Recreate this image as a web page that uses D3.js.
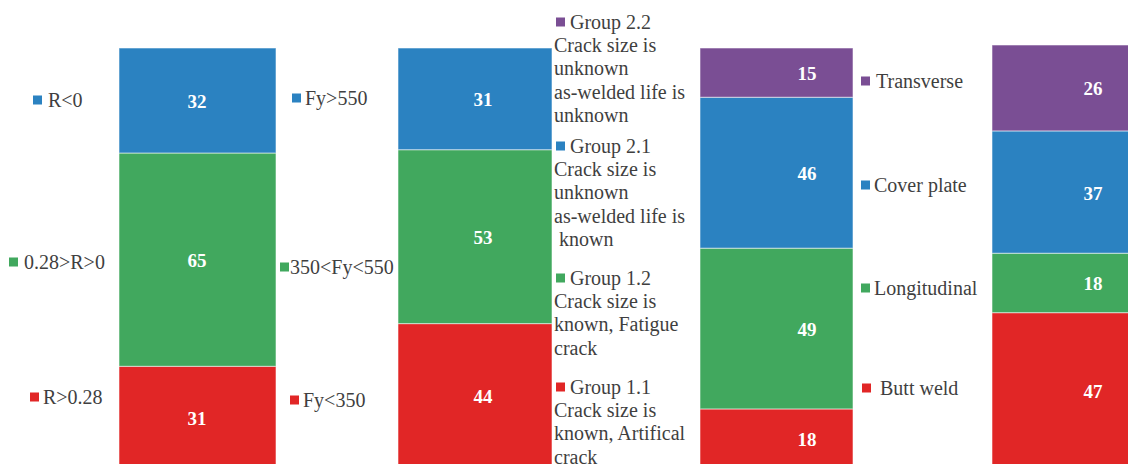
<!DOCTYPE html>
<html>
<head>
<meta charset="utf-8">
<script src="https://cdn.jsdelivr.net/npm/d3@7"></script>
<style>
  html, body { margin: 0; padding: 0; background: #fff; }
  svg { display: block; }
</style>
</head>
<body>
<svg id="chart" width="1128" height="464"></svg>
<script>
// values, bottom to top
const stressRatio = ["R>0.28", "0.28>R>0", "R<0"];
const stressRatioValues = [31, 65, 32];

const yieldStrength = ["Fy<350", "350<Fy<550", "Fy>550"];
const yieldStrengthValues = [44, 53, 31];

const crackGroups = [
  ["Group 1.1", "Crack size is", "known, Artifical", "crack"],
  ["Group 1.2", "Crack size is", "known, Fatigue", "crack"],
  ["Group 2.1", "Crack size is", "unknown", "as-welded life is", " known"],
  ["Group 2.2", "Crack size is", "unknown", "as-welded life is", "unknown"],
];
const crackGroupValues = [18, 49, 46, 15];

const detailTypes = ["Butt weld", "Longitudinal", "Cover plate", "Transverse"];
const detailTypeValues = [47, 18, 37, 26];

const colors = ["#e12626", "#41a85e", "#2b82c1", "#7a4e94"];

const svg = d3.select("#chart");
const bottom = 468;
const font = "'Liberation Serif', 'Times New Roman', serif";

// bar placement
const bars = [
  { values: stressRatioValues, x: 119, w: 157, top: 48, labelX: 197 },
  { values: yieldStrengthValues, x: 398, w: 154, top: 48, labelX: 483 },
  { values: crackGroupValues, x: 700, w: 153, top: 48, labelX: 807 },
  { values: detailTypeValues, x: 992, w: 170, top: 45, labelX: 1093 },
];

bars.forEach((b) => {
  const total = d3.sum(b.values);
  const y = d3.scaleLinear().domain([0, total]).range([bottom, b.top]);
  const ends = Array.from(d3.cumsum(b.values));
  const stacked = ends.map((end, i) => [end - b.values[i], end]);

  const g = svg.append("g").attr("class", "bar");
  g.selectAll("rect")
    .data(stacked)
    .join("rect")
    .attr("x", b.x)
    .attr("width", b.w)
    .attr("y", (d) => y(d[1]))
    .attr("height", (d) => y(d[0]) - y(d[1]))
    .attr("fill", (d, i) => colors[i])
    .attr("stroke", "rgba(255,255,255,0.55)")
    .attr("stroke-width", 1);

  g.selectAll("text")
    .data(stacked)
    .join("text")
    .attr("x", b.labelX)
    .attr("y", (d) => (y(d[0]) + y(d[1])) / 2 + 1)
    .attr("text-anchor", "middle")
    .attr("dominant-baseline", "central")
    .style("font-family", font)
    .style("font-weight", "bold")
    .style("font-size", "19px")
    .style("fill", "#fff")
    .text((d, i) => b.values[i]);
});

// legends: marker x, text x, center y for each entry (bottom to top)
const legends = [
  { names: stressRatio, mx: [30, 9, 33], tx: [43, 24, 48], cy: [397, 262, 100] },
  { names: yieldStrength, mx: [290, 280, 292], tx: [303, 290, 305], cy: [400, 267, 98] },
  { names: detailTypes, mx: [862, 861, 861, 861], tx: [880, 874, 874, 876], cy: [388, 288, 185, 81] },
];

legends.forEach((l) => {
  const g = svg.append("g").attr("class", "legend");
  l.names.forEach((name, i) => {
    g.append("rect")
      .attr("x", l.mx[i])
      .attr("y", l.cy[i] - 4.5)
      .attr("width", 9)
      .attr("height", 9)
      .attr("fill", colors[i]);
    g.append("text")
      .attr("x", l.tx[i])
      .attr("y", l.cy[i])
      .attr("dominant-baseline", "central")
      .style("font-family", font)
      .style("font-size", "20px")
      .style("fill", "#3f3f3f")
      .text(name);
  });
});

// multi-line legend for crack groups
const groupTop = [387, 278, 146, 22];
const lineGap = 23.2;
const gl = svg.append("g").attr("class", "legend");
crackGroups.forEach((lines, i) => {
  gl.append("rect")
    .attr("x", 556)
    .attr("y", groupTop[i] - 4.5)
    .attr("width", 9)
    .attr("height", 9)
    .attr("fill", colors[i]);
  const t = gl.append("text")
    .style("font-family", font)
    .style("font-size", "20px")
    .style("fill", "#3f3f3f")
    .attr("xml:space", "preserve");
  lines.forEach((s, j) => {
    t.append("tspan")
      .attr("x", j === 0 ? 570 : 554)
      .attr("y", groupTop[i] + j * lineGap)
      .attr("dominant-baseline", "central")
      .text(s);
  });
});
</script>
</body>
</html>
